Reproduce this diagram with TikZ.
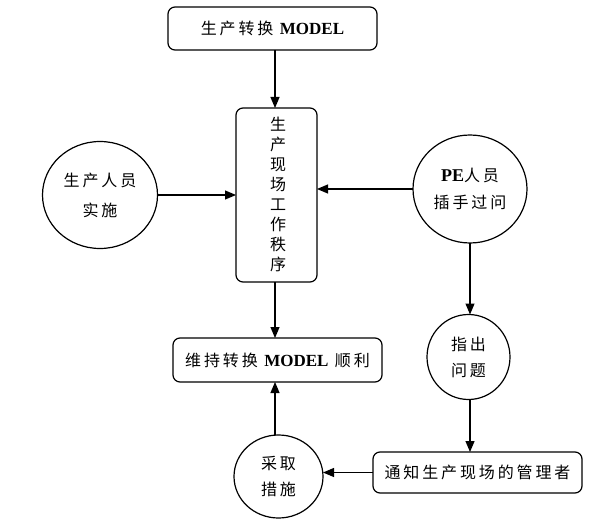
\documentclass[tikz,border=0pt]{standalone}
\usepackage{fontspec}
\setmainfont{Liberation Serif}
\newfontfamily\cjk[LetterSpace=18]{Noto Sans CJK SC}
\usetikzlibrary{arrows.meta,shapes.geometric}
\begin{document}
\begin{tikzpicture}[x=1pt,y=-1pt,
  every node/.style={inner sep=0pt, outer sep=0pt},
  rbox/.style={draw, line width=1.2pt, rounded corners=7pt, font=\fontsize{16}{19}\selectfont\cjk, align=center},
  circ/.style={draw, ellipse, line width=1.2pt, font=\fontsize{16}{19}\selectfont\cjk, align=center},
  lat/.style={},
  arr/.style={-{Triangle[length=11pt,width=9pt]}, line width=1.2pt}]
\useasboundingbox (0,0) rectangle (596,521);
\node[rbox, minimum width=209pt, minimum height=43pt] (top) at (272.5,28.5) {生产转换 {\fontspec{Liberation Serif}\bfseries\fontsize{17}{19}\selectfont MODEL}};
\node[rbox, minimum width=81pt, minimum height=174pt] (tall) at (276.5,195) {};
\node[font=\fontsize{16}{20}\selectfont\cjk, align=center] (talltext) at (278,194) {生\\产\\现\\场\\工\\作\\秩\\序};
\node[rbox, minimum width=209pt, minimum height=44pt] (bot) at (277.5,360) {维持转换 {\fontspec{Liberation Serif}\bfseries\fontsize{17}{19}\selectfont MODEL} 顺利};
\node[rbox, minimum width=209pt, minimum height=41pt] (br) at (477.5,472.5) {通知生产现场的管理者};
\node[circ, minimum width=115pt, minimum height=107pt] (lc) at (100,195) {生产人员\\[11pt]实施};
\node[circ, minimum width=114pt, minimum height=108pt] (pe) at (470,189) {{\fontspec{Liberation Serif}\bfseries\fontsize{18}{19}\selectfont PE}人员\\[8pt]插手过问};
\node[circ, minimum width=83pt, minimum height=85pt] (zc) at (468.5,357) {指出\\[7pt]问题};
\node[circ, minimum width=89pt, minimum height=83pt] (cq) at (278.5,476.5) {采取\\[7pt]措施};
\coordinate (ax) at (275,0);
\coordinate (bx) at (470,0);
\draw[arr] (top.south -| ax) -- (tall.north -| ax);
\draw[arr] (tall.south -| ax) -- (bot.north -| ax);
\draw[arr] (lc.east) -- (lc.east -| tall.west);
\draw[arr] (pe.west) -- (pe.west -| tall.east);
\draw[arr] (pe.south -| bx) -- (zc.north -| bx);
\draw[arr] (zc.south -| bx) -- (br.north -| bx);
\draw[arr] (br.west) -- (cq.east |- br.west);
\draw[arr] (cq.north -| ax) -- (bot.south -| ax);
\end{tikzpicture}
\end{document}
